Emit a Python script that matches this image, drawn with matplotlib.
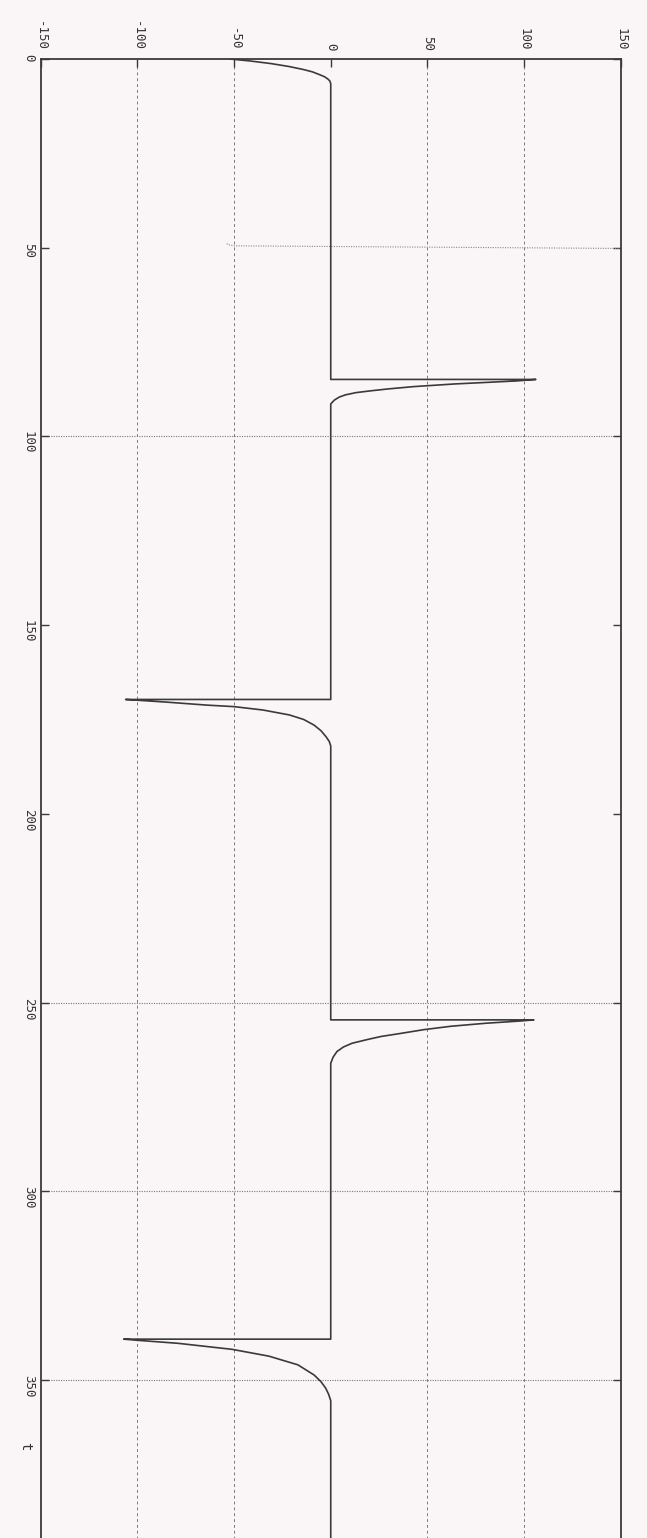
import numpy as np
import matplotlib.pyplot as plt

# scanned MATLAB-style response plot, printed rotated 90 degrees clockwise
# (time runs down the page, value runs left -> right)

value_ticks = [-150, -100, -50, 0, 50, 100, 150]
time_ticks = [0, 50, 100, 150, 200, 250, 300, 350, 400]
time_labels = ['0', '50', '100', '150', '200', '250', '300', '350', '']
vgrid = [-100, -50, 50, 100]
hgrid = [100, 250, 300, 350]

# response trace, one piece per step event
seg1_t = [0, 0.5, 1.2, 2.0, 2.8, 3.4, 4.2, 4.7, 5.3, 5.8, 6.5]
seg1_v = [-52, -42, -31, -21.4, -14, -9.5, -5.5, -3.2, -1.5, -0.5, 0]
seg2_t = [84.9, 84.9, 85.3, 86.1, 86.8, 87.4, 87.9, 88.4, 89.0, 89.6, 90.4, 91.4]
seg2_v = [0, 106, 96, 64, 43, 30, 21, 13, 7.5, 4.3, 1.8, 0]
seg3_t = [169.7, 169.7, 169.9, 170.4, 171.2, 171.6, 172.5, 173.8, 175.0, 176.5, 178.0, 179.6, 180.8, 182.0]
seg3_v = [0, -106, -100, -85, -64, -50, -35, -21.4, -14, -8.6, -5.0, -2.4, -0.8, 0]
seg4_t = [254.6, 254.6, 254.9, 255.5, 256.3, 257.2, 258.2, 259.0, 259.8, 260.8, 261.8, 263.0, 264.5, 266.1]
seg4_v = [0, 105, 98, 80, 62, 48, 36, 26, 19, 11, 6.5, 3.2, 1.2, 0]
seg5_t = [339.2, 339.2, 339.5, 340.3, 341.9, 343.7, 346.0, 348.7, 350.5, 352.2, 353.8, 355.5, 400]
seg5_v = [0, -107, -100, -79, -51, -32, -17, -8.6, -5.0, -2.6, -1.1, 0, 0]

# faint dotted trace near t=50
faint_t = [50.2, 49.5, 49.2, 48.8]
faint_v = [150, -50, -53, -54]

t = np.concatenate([seg1_t, seg2_t, seg3_t, seg4_t, seg5_t])
v = np.concatenate([seg1_v, seg2_v, seg3_v, seg4_v, seg5_v])

bg = '#faf5f7'
ink = '#3a3a3a'

fig = plt.figure(figsize=(6.47, 15.38), dpi=100, facecolor=bg)
ax = fig.add_axes([0.0626, -0.0199, 0.8972, 0.98153], facecolor=bg)

for g in vgrid:
  ax.axvline(g, color='#7a7a7a', lw=0.7, ls=(0, (3, 3)), zorder=1)
for g in hgrid:
  ax.axhline(g, color='#7a7a7a', lw=0.8, ls=(0, (1, 1.2)), zorder=1)

ax.plot(faint_v, faint_t, color='#8a8a8a', lw=0.8, ls=(0, (1, 1.2)), zorder=2)
ax.plot(v, t, color=ink, lw=1.2, zorder=3)

ax.set_xlim(-150, 150)
ax.set_ylim(400, 0)

ax.set_xticks(value_ticks)
ax.set_xticklabels([str(x) for x in value_ticks])
ax.set_yticks(time_ticks)
ax.set_yticklabels(time_labels)

ax.tick_params(axis='x', top=True, bottom=True, labeltop=True, labelbottom=False,
               direction='in', length=6, width=1.0, color=ink, pad=6,
               labelrotation=-90, labelsize=9, labelcolor='#333333')
ax.tick_params(axis='y', left=True, right=True, direction='in', length=6, width=1.0,
               color=ink, pad=4, labelrotation=-90, labelsize=9, labelcolor='#333333')
for lab in ax.get_xticklabels() + ax.get_yticklabels():
  lab.set_family('DejaVu Sans Mono')

for s in ax.spines.values():
  s.set_color(ink)
  s.set_linewidth(1.3)

ax.text(-0.027, 367.5, 't', transform=ax.get_yaxis_transform(), rotation=-90,
        ha='center', va='center', fontsize=10, color='#333333', family='DejaVu Sans Mono')

fig.savefig('out.png', dpi=100, facecolor=bg)
